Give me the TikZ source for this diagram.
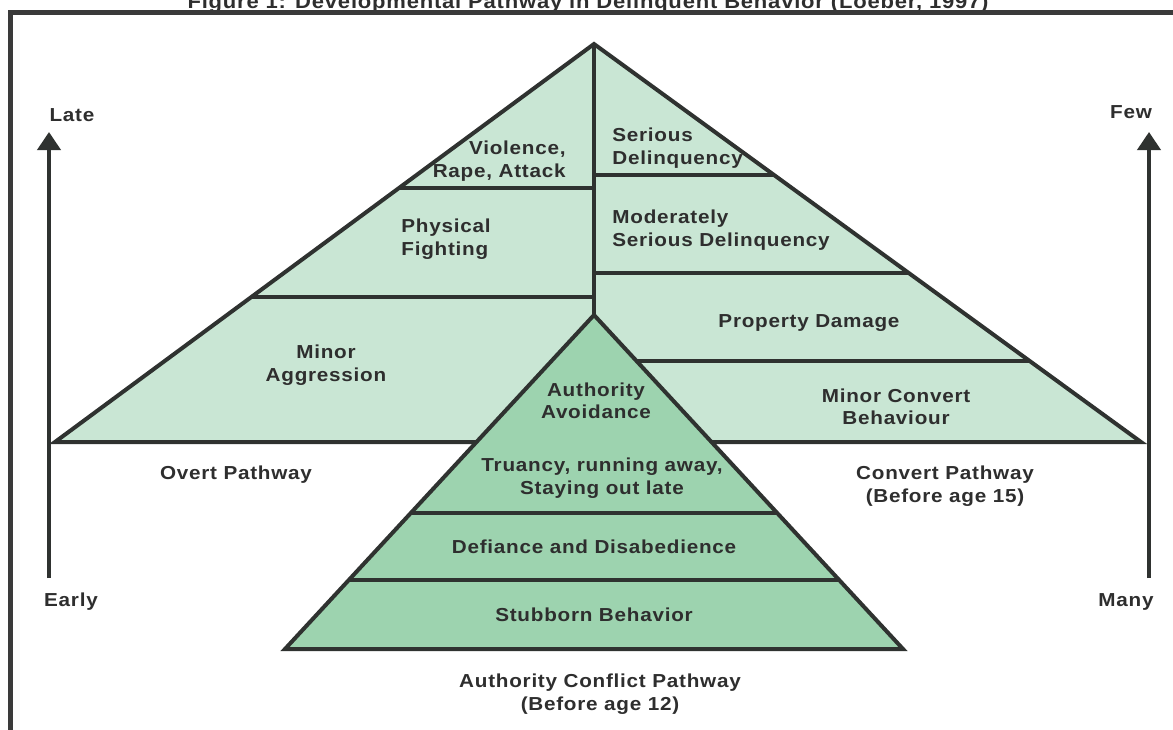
\documentclass[tikz,border=0pt]{standalone}
\usepackage{fontspec}
\setmainfont{Liberation Sans}[FakeStretch=1.1,LetterSpace=4]
\usetikzlibrary{arrows.meta}

\begin{document}
\begin{tikzpicture}[x=0.5pt,y=-0.5pt,
  lbl/.style={align=center,text=txtgray,inner sep=0pt,font=\bfseries\fontsize{9.4}{11.2}\selectfont},
  edge/.style={draw=linegray,line width=2pt},
  axis/.style={draw=linegray,line width=2pt,-{Triangle[width=11.5pt,length=9pt]}}]
  \definecolor{paleband}{HTML}{C9E6D4}
  \definecolor{midband}{HTML}{9DD3AF}
  \definecolor{linegray}{HTML}{2F3230}
  \definecolor{txtgray}{HTML}{2E2E2E}
  \definecolor{framegray}{HTML}{3A3A3A}

  \useasboundingbox[fill=white] (0,0) rectangle (1173,729);

  % frame and title (cut at the top)
  \node[lbl,anchor=base,font=\bfseries\fontsize{10}{12}\selectfont] (title) at (588,8) {Figure 1: Developmental Pathway in Delinquent Behavior (Loeber, 1997)};
  \draw[line width=2.5pt,draw=framegray] (10,760) -- (10,12) -- (1200,12);

  % outer pyramid
  \coordinate (top) at (594,44);
  \coordinate (left) at (55,442);
  \coordinate (right) at (1141,442);
  \filldraw[edge,fill=paleband] (left) -- (top) -- (right) -- cycle;
  \draw[edge] (top) -- (594,315);
  \draw[edge] (399,188) -- (594,188);
  \draw[edge] (251.4,297) -- (594,297);
  \draw[edge] (594,175) -- (774,175);
  \draw[edge] (594,273) -- (908.7,273);
  \draw[edge] (594,361) -- (1029.7,361);

  % inner pyramid
  \coordinate (itop) at (594,315);
  \coordinate (ileft) at (285,649);
  \coordinate (iright) at (903,649);
  \filldraw[edge,fill=midband] (ileft) -- (itop) -- (iright) -- cycle;
  \draw[edge] (410.8,513) -- (777.2,513);
  \draw[edge] (348.8,580) -- (839.2,580);

  % overt side
  \node[lbl,anchor=east,align=right] (violence) at (566,161) {Violence,\\Rape, Attack};
  \node[lbl,anchor=west,align=left] (fighting) at (401,239) {Physical\\Fighting};
  \node[lbl] (minoragg) at (326,365) {Minor\\Aggression};
  \node[lbl] (overt) at (236,475) {Overt Pathway};

  % covert side
  \node[lbl,anchor=west,align=left] (serious) at (612,148) {Serious\\Delinquency};
  \node[lbl,anchor=west,align=left] (moderate) at (612,230) {Moderately\\Serious Delinquency};
  \node[lbl] (property) at (809,323) {Property Damage};
  \node[lbl] (minorconv) at (896,407) {Minor Convert\\Behaviour};
  \node[lbl] (convert) at (945,486) {Convert Pathway\\(Before age 15)};

  % authority conflict
  \node[lbl] (avoid) at (596,401) {Authority\\Avoidance};
  \node[lbl] (truancy) at (602,478) {Truancy, running away,\\Staying out late};
  \node[lbl] (defiance) at (594,547) {Defiance and Disabedience};
  \node[lbl] (stubborn) at (594,615) {Stubborn Behavior};
  \node[lbl] (authority) at (600,694) {Authority Conflict Pathway\\(Before age 12)};

  % axes
  \node[lbl] (late) at (72,115) {Late};
  \node[lbl] (early) at (71,602) {Early};
  \node[lbl] (few) at (1131,112) {Few};
  \node[lbl] (many) at (1126,602) {Many};
  \coordinate (lbot) at (49,578);
  \coordinate (ltip) at (49,132);
  \coordinate (rbot) at (1149,578);
  \coordinate (rtip) at (1149,132);
  \draw[axis] (lbot) -- (ltip);
  \draw[axis] (rbot) -- (rtip);
\end{tikzpicture}
\end{document}
